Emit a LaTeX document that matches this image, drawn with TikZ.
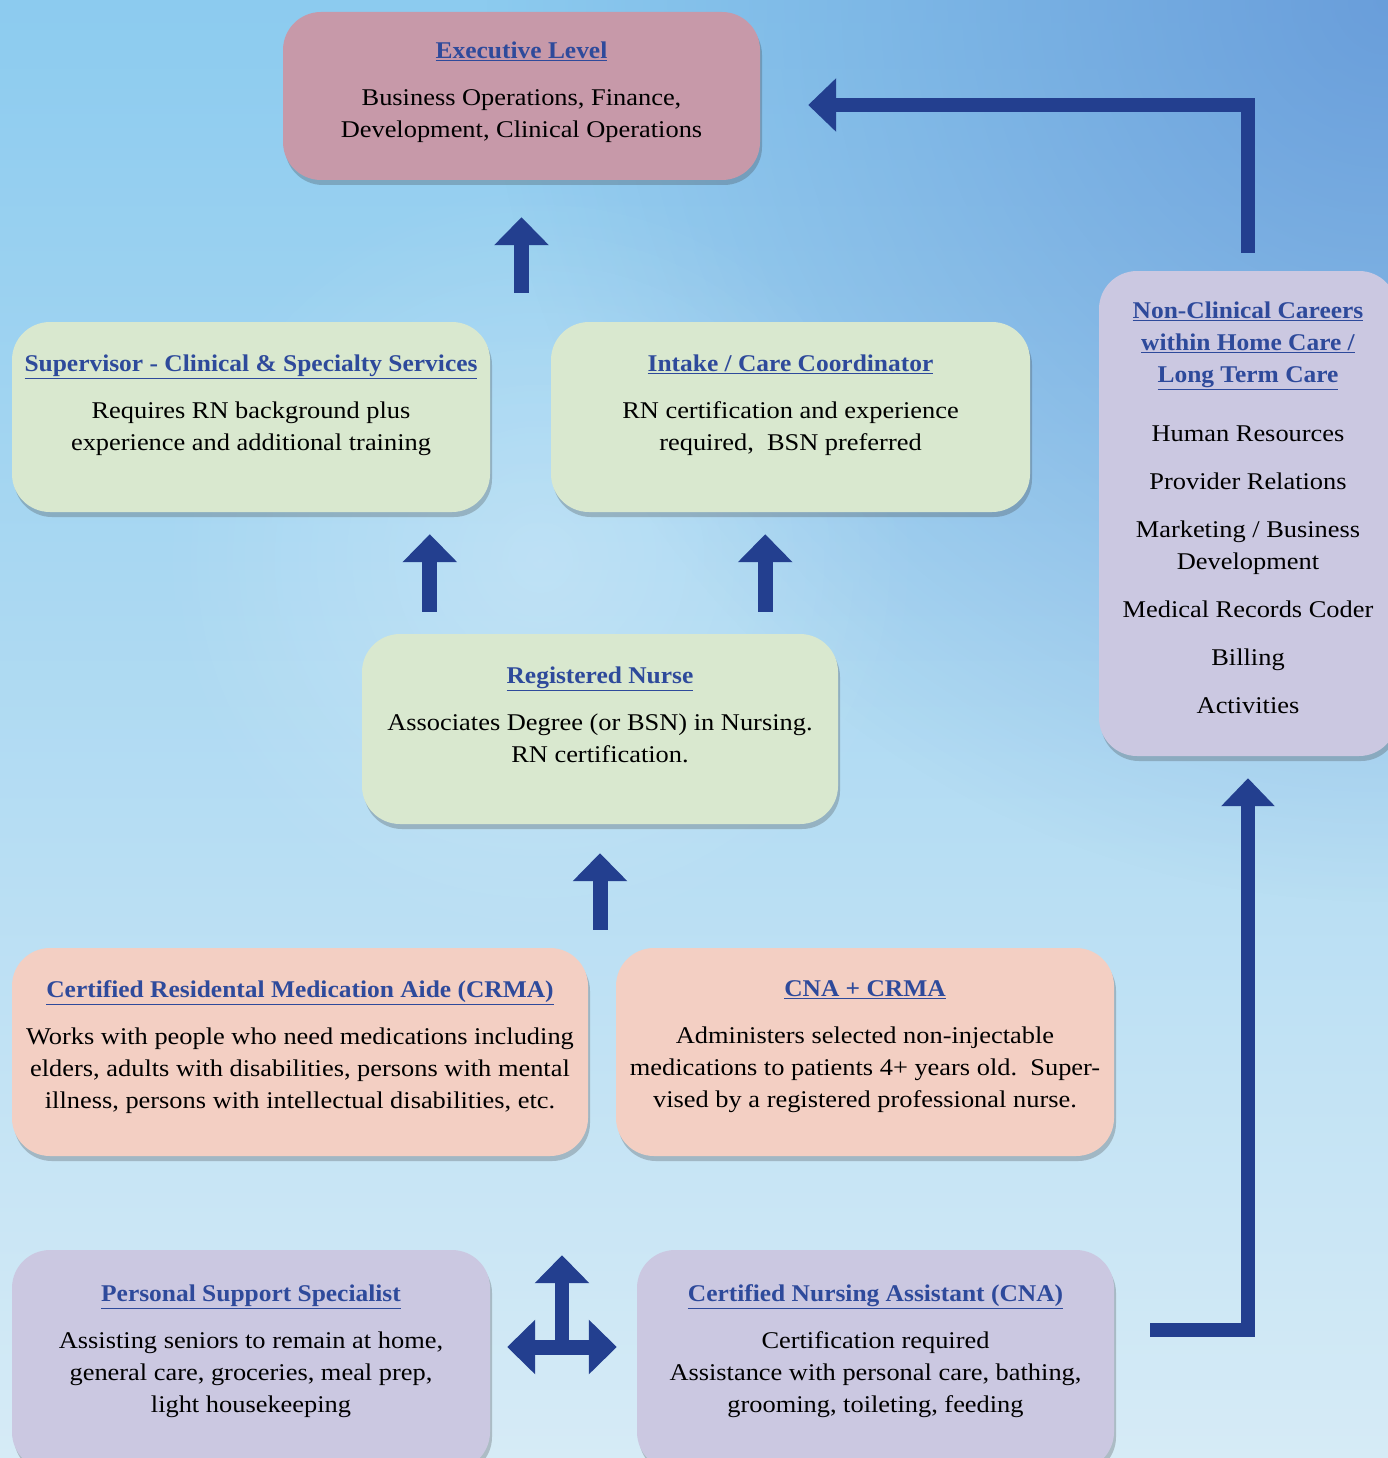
\documentclass[tikz,border=0pt]{standalone}
\usepackage{fontspec}
\setmainfont{Liberation Serif}[UprightFeatures={FakeStretch=1.10}, BoldFeatures={FakeStretch=1.06}]
\usetikzlibrary{positioning,arrows.meta,shadows,fadings}

\definecolor{arrowblue}{HTML}{233F8F}
\definecolor{titleblue}{HTML}{2E4A9B}
\definecolor{execpink}{HTML}{C799A9}
\definecolor{nursegreen}{HTML}{D9E8CF}
\definecolor{aidepeach}{HTML}{F3CFC3}
\definecolor{supportlilac}{HTML}{CBC8E1}
\definecolor{bgtop}{HTML}{8CCBEF}
\definecolor{bgmid}{HTML}{A8D8F2}
\definecolor{bgbottom}{HTML}{D6EBF6}
\definecolor{bgdeep}{HTML}{5E8FD4}

\newcommand{\boxtitle}[1]{\textcolor{titleblue}{\textbf{\underline{#1}}}}

\tikzfading[name=fade corner, inner color=transparent!0, outer color=transparent!100]

\begin{document}
\begin{tikzpicture}[x=1pt, y=-1pt,
    careerbox/.style={rounded corners=38pt, inner sep=0pt,
        drop shadow={shadow xshift=2pt, shadow yshift=-5pt, opacity=.25, fill=black!80}},
    boxtext/.style={align=center, inner sep=0pt, font=\fontsize{24}{32}\selectfont},
    bluearrow/.style={draw=arrowblue, line width=15pt, -{Triangle[width=53pt,length=28pt]}},
    elbowarrow/.style={bluearrow, line width=14pt, -{Triangle[width=52pt,length=28pt]}}]

\useasboundingbox (0,0) rectangle (1388,1458);

% background
\begin{scope}
\clip (0,0) rectangle (1388,1458);
\shade[top color=bgtop, middle color=bgmid, bottom color=bgbottom] (0,0) rectangle (1388,1458);
\fill[bgdeep, opacity=.75, path fading=fade corner] (1388,0) circle (900);
\fill[white, opacity=.25, path fading=fade corner] (540,560) circle (380);
\end{scope}

% boxes
\node[careerbox, fill=execpink, minimum width=477pt, minimum height=168pt] (exec) at (521.5,96) {};
\node[careerbox, fill=nursegreen, minimum width=478pt, minimum height=190pt] (sup) at (251,417) {};
\node[careerbox, fill=nursegreen, minimum width=479pt, minimum height=190pt] (intake) at (790.5,417) {};
\node[careerbox, fill=nursegreen, minimum width=476pt, minimum height=190pt] (rn) at (600,729) {};
\node[careerbox, fill=supportlilac, minimum width=298pt, minimum height=485pt] (nc) at (1248,513.5) {};
\node[careerbox, fill=aidepeach, minimum width=576pt, minimum height=208pt] (crma) at (300,1052) {};
\node[careerbox, fill=aidepeach, minimum width=498pt, minimum height=208pt] (cnacrma) at (865,1052) {};
\node[careerbox, fill=supportlilac, minimum width=478pt, minimum height=220pt] (pss) at (251,1360) {};
\node[careerbox, fill=supportlilac, minimum width=477pt, minimum height=220pt] (cna) at (875.5,1360) {};

% texts
\node[boxtext, below=30pt of exec.north] (execT) {\boxtitle{Executive Level}\\[15pt]
    Business Operations, Finance,\\ Development, Clinical Operations};
\node[boxtext, below=33pt of sup.north] (supT) {\boxtitle{Supervisor - Clinical \& Specialty Services}\\[15pt]
    Requires RN background plus\\ experience and additional training};
\node[boxtext, below=33pt of intake.north] (intakeT) {\boxtitle{Intake / Care Coordinator}\\[15pt]
    RN certification and experience\\ required,\ \ BSN preferred};
\node[boxtext, below=33pt of rn.north] (rnT) {\boxtitle{Registered Nurse}\\[15pt]
    Associates Degree (or BSN) in Nursing.\\ RN certification.};
\node[boxtext, below=31pt of nc.north] (ncT) {\boxtitle{Non-Clinical Careers}\\
    \boxtitle{within Home Care /}\\ \boxtitle{Long Term Care}\\[27pt]
    Human Resources\\[16pt] Provider Relations\\[16pt]
    Marketing / Business\\ Development\\[16pt] Medical Records Coder\\[16pt]
    Billing\\[16pt] Activities};
\node[boxtext, below=33pt of crma.north] (crmaT) {\boxtitle{Certified Residental Medication Aide (CRMA)}\\[15pt]
    Works with people who need medications including\\
    elders, adults with disabilities, persons with mental\\
    illness, persons with intellectual disabilities, etc.};
\node[boxtext, below=33pt of cnacrma.north] (cnacrmaT) {\boxtitle{CNA + CRMA}\\[15pt]
    Administers selected non-injectable\\
    medications to patients 4+ years old.\ \ Super-\\
    vised by a registered professional nurse.};
\node[boxtext, below=35pt of pss.north] (pssT) {\boxtitle{Personal Support Specialist}\\[15pt]
    Assisting seniors to remain at home,\\ general care, groceries, meal prep,\\ light housekeeping};
\node[boxtext, below=35pt of cna.north] (cnaT) {\boxtitle{Certified Nursing Assistant (CNA)}\\[15pt]
    Certification required\\ Assistance with personal care, bathing,\\ grooming, toileting, feeding};

% arrows
\draw[bluearrow, shorten <=29pt, shorten >=37pt] (exec.south |- sup.north) -- (exec.south);
\draw[bluearrow, shorten <=22pt, shorten >=22pt] ([xshift=68pt]rn.north west) -- ([xshift=68pt]rn.north west |- sup.south);
\draw[bluearrow, shorten <=22pt, shorten >=22pt] ([xshift=-73pt]rn.north east) -- ([xshift=-73pt]rn.north east |- intake.south);
\draw[bluearrow, shorten <=18pt, shorten >=29pt] (rn.south |- crma.north) -- (rn.south);
\draw[elbowarrow, shorten <=18pt, shorten >=48pt] (nc.north) |- ([yshift=-9pt]exec.east);
\draw[elbowarrow, shorten <=36pt, shorten >=22pt] ([yshift=30pt]cna.east) -| (nc.south);

\coordinate (hub) at (562,1347);
\draw[bluearrow, {Triangle[width=53pt,length=28pt]}-{Triangle[width=53pt,length=28pt]},
    shorten <=17pt, shorten >=20pt] ([yshift=13pt]pss.east) -- ([yshift=13pt]cna.west);
\draw[bluearrow, line width=14pt, shorten >=99pt] (hub) -- (hub |- crma.south);

\end{tikzpicture}
\end{document}
